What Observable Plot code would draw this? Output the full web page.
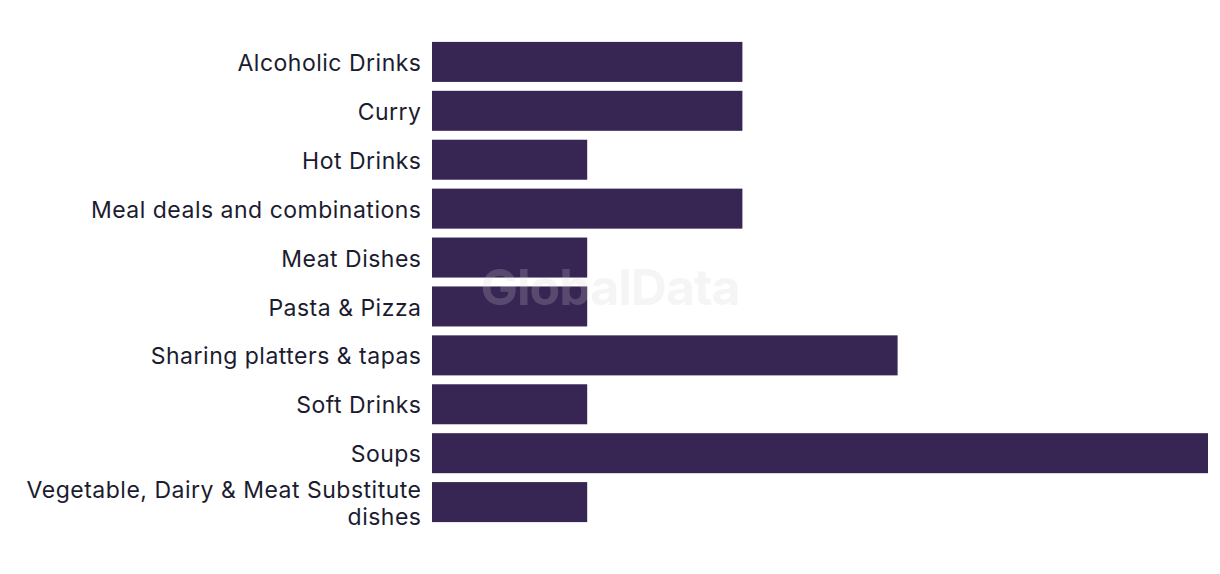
<!DOCTYPE html>
<html>
<head>
<meta charset="utf-8">
<script src="https://cdn.jsdelivr.net/npm/d3@7"></script>
<script src="https://cdn.jsdelivr.net/npm/@observablehq/plot@0.6"></script>
<style>
  html, body { margin: 0; padding: 0; background: #ffffff; }
  #wrap { position: relative; width: 1220px; height: 574px; }
  #wm {
    position: absolute; left: 0; top: 0; width: 1220px; height: 574px;
    display: flex; align-items: center; justify-content: center;
    font-family: Inter, "Noto Sans", sans-serif; font-weight: 700; font-size: 50px;
    letter-spacing: -1px; color: rgba(208,208,208,0.22); pointer-events: none;
  }
  #chart svg text { letter-spacing: 0.5px; }
</style>
</head>
<body>
<div id="wrap"><div id="chart"></div><div id="wm">GlobalData</div></div>
<script>
const categories = [
  "Alcoholic Drinks",
  "Curry",
  "Hot Drinks",
  "Meal deals and combinations",
  "Meat Dishes",
  "Pasta & Pizza",
  "Sharing platters & tapas",
  "Soft Drinks",
  "Soups",
  "Vegetable, Dairy & Meat Substitute dishes"
];
const values = [2, 2, 1, 2, 1, 1, 3, 1, 5, 1];
const wrappedLabels = {
  "Vegetable, Dairy & Meat Substitute dishes": "Vegetable, Dairy & Meat Substitute\ndishes"
};

const data = categories.map((c, i) => ({category: c, value: values[i]}));

const chart = Plot.plot({
  width: 1220,
  height: 574,
  marginLeft: 432,
  marginRight: 12,
  marginTop: 33,
  marginBottom: 43,
  style: {fontFamily: "Inter, 'Noto Sans', sans-serif", background: "#ffffff"},
  x: {domain: [0, 5], axis: null},
  y: {domain: categories, padding: 0.182, round: false, label: null},
  marks: [
    Plot.barX(data, {x: "value", y: "category", fill: "#372554"}),
    Plot.axisY({
      tickSize: 0,
      tickPadding: 11,
      fontSize: 23,
      lineHeight: 1.17,
      fill: "#1c1c30",
      tickFormat: d => wrappedLabels[d] ?? d,
      label: null
    })
  ]
});
document.getElementById("chart").appendChild(chart);
</script>
</body>
</html>
